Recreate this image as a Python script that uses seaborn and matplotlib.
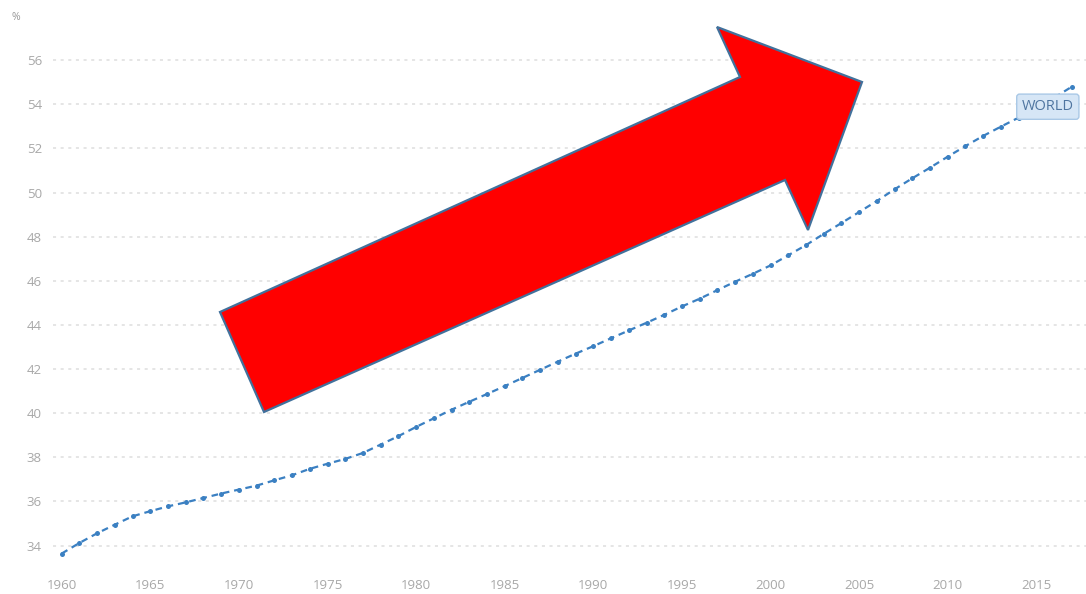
import numpy as np
import pandas as pd
import seaborn as sns
import matplotlib.pyplot as plt
from matplotlib.patches import Polygon

# World urban population share, % of total
years = list(range(1960, 2018))
urban_pct = [33.64, 34.12, 34.56, 34.95, 35.33, 35.56, 35.78, 35.96, 36.16, 36.36,
             36.54, 36.72, 36.96, 37.19, 37.48, 37.71, 37.93, 38.20, 38.58, 38.96,
             39.38, 39.77, 40.16, 40.52, 40.87, 41.23, 41.60, 41.97, 42.34, 42.70,
             43.04, 43.40, 43.75, 44.10, 44.46, 44.84, 45.19, 45.58, 45.96, 46.32,
             46.70, 47.16, 47.62, 48.13, 48.62, 49.12, 49.62, 50.15, 50.65, 51.13,
             51.63, 52.11, 52.57, 52.99, 53.40, 53.85, 54.30, 54.80]
x_ticks = list(range(1960, 2016, 5))
y_ticks = list(range(34, 57, 2))
series_label = "WORLD"

# red arrow overlay, outline in figure pixels (from top-left)
arrow_px = [(220, 312), (740, 77), (717, 27), (862, 82), (808, 230), (785, 180), (264, 412)]

df = pd.DataFrame({"year": years, "pct": urban_pct})

sns.set_style("white")
plt.rcParams["font.family"] = ["Open Sans", "DejaVu Sans"]

W, H = 1086, 594
fig = plt.figure(figsize=(W / 100, H / 100), dpi=100)
ax = fig.add_axes([53 / W, 1 - 569 / H, (W - 53) / W, (569 - 45) / H])

sns.lineplot(data=df, x="year", y="pct", ax=ax, color="#3b80c2", linewidth=1.6,
             linestyle=(0, (3, 2.2)), marker="o", markersize=3.6,
             markeredgewidth=0, zorder=3)

ax.set_xlim(1959.51, 2017.8)
ax.set_ylim(32.94, 56.69)
ax.set_xticks(x_ticks)
ax.set_yticks(y_ticks)
ax.set_xlabel("")
ax.set_ylabel("")
for s in ax.spines.values():
    s.set_visible(False)
ax.grid(axis="y", color="#dedede", linewidth=1.1, linestyle=(0, (2, 3)))
ax.grid(axis="x", visible=False)
ax.tick_params(axis="y", length=0, pad=8, labelsize=9.5, labelcolor="#a8a8a8")
ax.tick_params(axis="x", length=3, width=1, color="#cccccc", pad=4,
               labelsize=9.5, labelcolor="#a8a8a8")

fig.text(12 / W, 1 - 18 / H, "%", fontsize=7.5, color="#999999", va="center")

# series label at the end of the line
ax.annotate(series_label, xy=(years[-1], urban_pct[-1]), xytext=(-24, -20),
            textcoords="offset pixels", ha="center", va="center",
            fontsize=10.5, color="#4f75a0", zorder=5,
            bbox=dict(boxstyle="round,pad=0.35,rounding_size=0.2",
                      facecolor="#d6e6f6", edgecolor="#a9c8e6", linewidth=1))

arrow_fig = [(x / W, 1 - y / H) for x, y in arrow_px]
fig.add_artist(Polygon(arrow_fig, closed=True, transform=fig.transFigure,
                       facecolor="#ff0000", edgecolor="#41719c", linewidth=1.6,
                       zorder=10))

fig.savefig("out.png", dpi=100)
